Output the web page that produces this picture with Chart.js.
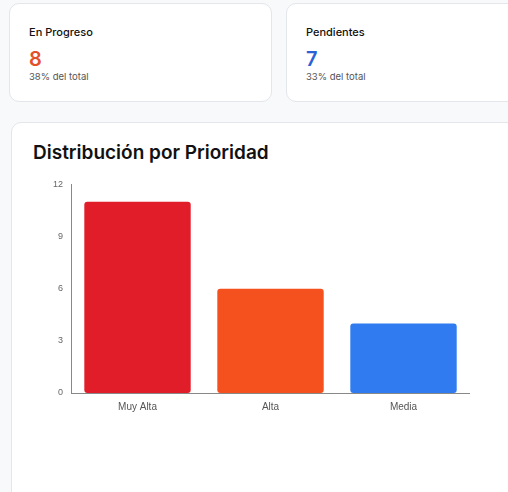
<!DOCTYPE html>
<html>
<head>
<meta charset="utf-8">
<script src="https://cdn.jsdelivr.net/npm/chart.js@4"></script>
<style>
  body { margin: 0; background: #f8f9fb; font-family: Inter, "Noto Sans", sans-serif; width: 508px; height: 492px; overflow: hidden; position: relative; }
  .card { position: absolute; background: #fff; border: 1px solid #e3e6ea; border-radius: 10px; box-sizing: border-box; }
  .stat h4 { margin: 0; position: absolute; left: 19px; top: 21px; font-size: 11px; font-weight: 500; color: #111; }
  .stat .num { position: absolute; left: 19px; top: 43px; font-size: 20px; font-weight: 600; }
  .stat .sub { position: absolute; left: 19px; top: 67px; font-size: 9.5px; color: #555; }
  h2 { position: absolute; left: 21px; top: 18px; margin: 0; font-size: 19px; font-weight: 600; color: #111; }
  #wrap { position: absolute; left: 50px; top: 176px; width: 420px; height: 240px; }
</style>
</head>
<body>
<div class="card stat" style="left:9px; top:3px; width:263px; height:99px;">
  <h4>En Progreso</h4><div class="num" style="color:#e4502a">8</div><div class="sub">38% del total</div>
</div>
<div class="card stat" style="left:286px; top:3px; width:240px; height:99px;">
  <h4>Pendientes</h4><div class="num" style="color:#2c62d6">7</div><div class="sub">33% del total</div>
</div>
<div class="card" style="left:11px; top:122px; width:520px; height:400px;">
  <h2>Distribución por Prioridad</h2>
</div>
<div id="wrap"><canvas id="chart"></canvas></div>
<script>
// datos del gráfico
const categorias = ['Muy Alta', 'Alta', 'Media'];
const valores = [11, 6, 4];
const cores = ['#e11d2a', '#f4511e', '#2f7bef'];
const ticksY = [0, 3, 6, 9, 12];

const config = {
    type: 'bar',
    data: {
        labels: categorias,
        datasets: [{ data: valores, backgroundColor: cores, borderRadius: 3, borderSkipped: false, barPercentage: 0.8, categoryPercentage: 1 }]
    },
    options: {
        maintainAspectRatio: false,
        animation: false,
        plugins: { legend: { display: false }, tooltip: { enabled: false } },
        scales: {
            y: {
                min: 0, max: 12,
                afterBuildTicks: function (axis) { axis.ticks = ticksY.map(v => ({ value: v })); },
                grid: { display: false, drawTicks: true, tickLength: 5, tickColor: '#888' },
                border: { color: '#888' },
                ticks: { color: '#666', font: { size: 9 }, padding: 3 }
            },
            x: {
                grid: { display: false, tickLength: 5, tickColor: '#888' },
                border: { color: '#888' },
                ticks: { color: '#555', font: { size: 10 } }
            }
        }
    }
};
new Chart(document.getElementById('chart'), config);
</script>
</body>
</html>
